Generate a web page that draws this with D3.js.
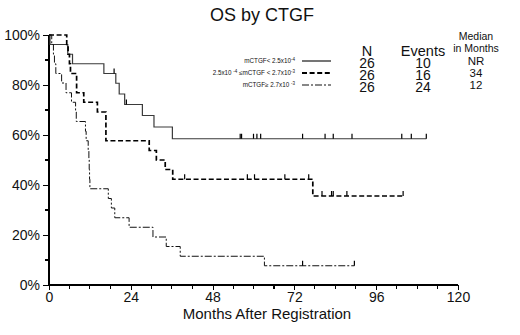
<!DOCTYPE html>
<html><head><meta charset="utf-8">
<script src="https://cdn.jsdelivr.net/npm/d3@7"></script>
<style>body{margin:0;background:#fff}svg{display:block}text{font-family:"Liberation Sans",Arial,sans-serif;fill:#111}</style>
</head><body>
<svg id="c" width="520" height="335"></svg>
<script>
// ---- data (months, survival %) ----
const groupNames = ["low", "mid", "high"];
const lowSteps = [[0,100],[0.3,96.2],[5.5,92.3],[6.9,88.5],[16.1,84.6],[19.6,80.7],[20.6,76.4],[22.2,72.2],[27.4,67.8],[30.8,63.2],[36.2,58.5]];
const lowEnd = 110.7;
const lowCensor = [19.1,22.7,56.1,56.5,60,61,62.1,74.4,81,83.4,88.9,103.5,106.3,110.7];

const midSteps = [[0,100],[5.2,96.2],[5.6,92.3],[6.0,88.5],[6.3,84.6],[8.1,76.9],[10.2,73.1],[14.2,69.2],[16.7,57.7],[29.4,53.8],[31.5,50],[34.1,46.2],[36.3,42.3],[77.4,35.6]];
const midEnd = 103.9;
const midCensor = [39.8,58.2,60.3,69.2,76.2,80.1,82.9,83.4,87.4,103.9];

const highSteps = [[0,100],[0.8,96.2],[1.3,92.3],[1.6,88.5],[2.0,84.6],[3.7,80.8],[5.0,76.9],[6.6,73.1],[7.8,69.2],[8.0,65.4],[10.7,61.5],[10.9,57.7],[11.5,53.8],[11.7,50],[11.8,46.2],[11.9,42.3],[12.0,38.5],[17.4,34.6],[18.3,30.8],[19.3,26.9],[23.5,23.1],[30.5,19.2],[34.4,15.4],[38.5,11.5],[63.2,7.7]];
const highEnd = 89.6;
const highCensor = [74.4,89.6];

const legendLabels = [["mCTGF< 2.5x10","-4",""],["2.5x10 ","-4"," \u2264mCTGF < 2.7x10","-3"],["mCTGF\u2265 2.7x10 ","-3",""]];
const nValues = ["26","26","26"];
const eventValues = ["10","16","24"];
const medianValues = ["NR","34","12"];
const xTicks = [0,24,48,72,96,120];
const yTicks = [0,20,40,60,80,100];

// ---- scales ----
const svg = d3.select("#c");
const x = d3.scaleLinear().domain([0,120]).range([49,458]);
const y = d3.scaleLinear().domain([0,100]).range([285,35]);

const styles = [
  {stroke:"#3a3a3a", w:1.2, dash:null},
  {stroke:"#000", w:1.7, dash:"5,2.6"},
  {stroke:"#111", w:1.0, dash:"7,2,2,2"}
];

// title
svg.append("text").attr("x",262).attr("y",21).attr("text-anchor","middle")
  .attr("font-size",18).text("OS by CTGF");

// axes
const yAxis = d3.axisLeft(y).tickValues(yTicks).tickFormat(d=>d+"%").tickSize(6).tickPadding(3);
const gy = svg.append("g").attr("transform","translate(49,0)").call(yAxis);
gy.select(".domain").attr("d","M0,35V285").attr("stroke","#000").attr("stroke-width",1.3);
gy.selectAll("text").attr("font-size",14);
gy.selectAll(".tick line").attr("stroke-width",1.2);
gy.selectAll(".minor").data(d3.range(10,100,20)).enter().append("line")
  .attr("x1",-4).attr("x2",0).attr("y1",d=>y(d)).attr("y2",d=>y(d)).attr("stroke","#000").attr("stroke-width",1.1);

const xAxis = d3.axisBottom(x).tickValues(xTicks).tickSize(5).tickPadding(2);
const gx = svg.append("g").attr("transform","translate(0,285)").call(xAxis);
gx.select(".domain").attr("d","M49,0H458").attr("stroke","#000").attr("stroke-width",1.3);
gx.selectAll("text").attr("font-size",14);
gx.selectAll(".tick line").attr("stroke-width",1.2);
gx.selectAll(".minor").data(d3.range(6,120,6).filter(d=>d%24)).enter().append("line")
  .attr("x1",d=>x(d)).attr("x2",d=>x(d)).attr("y1",0).attr("y2",4).attr("stroke","#000").attr("stroke-width",1.1);
gx.selectAll("path,line").attr("shape-rendering","crispEdges");
gy.selectAll("path,line").attr("shape-rendering","crispEdges");

svg.append("text").attr("x",267).attr("y",319).attr("text-anchor","middle").attr("font-size",15)
  .text("Months After Registration");

// curves
const line = d3.line().x(d=>x(d[0])).y(d=>y(d[1])).curve(d3.curveStepAfter);
function survAt(steps,t){let s=steps[0][1];for(const p of steps){if(p[0]<=t)s=p[1];}return s;}
const groups = [[lowSteps,lowEnd,lowCensor],[midSteps,midEnd,midCensor],[highSteps,highEnd,highCensor]];
groups.forEach((g,i)=>{
  const [steps,end,cens]=g;
  const pts = steps.concat([[end,steps[steps.length-1][1]]]);
  const st = styles[i];
  svg.append("path").attr("d",line(pts)).attr("fill","none").attr("stroke",st.stroke)
    .attr("stroke-width",st.w).attr("stroke-dasharray",st.dash);
  svg.append("g").selectAll("line").data(cens).enter().append("line")
    .attr("x1",d=>x(d)).attr("x2",d=>x(d)).attr("y1",d=>y(survAt(steps,d)))
    .attr("y2",d=>y(survAt(steps,d))-5).attr("stroke","#000").attr("stroke-width",1.2);
});

// legend
const rowY = [62,74,86];
legendLabels.forEach((lab,i)=>{
  const t = svg.append("text").attr("x",295).attr("y",rowY[i]+1).attr("text-anchor","end").attr("font-size",6.3);
  t.append("tspan").text(lab[0]);
  t.append("tspan").attr("font-size",4.5).attr("dy",-2.5).text(lab[1]);
  if(lab.length>3){
    t.append("tspan").attr("dy",2.5).text(lab[2]);
    t.append("tspan").attr("font-size",4.5).attr("dy",-2.5).text(lab[3]);
  }
  const st = styles[i];
  svg.append("line").attr("x1",302).attr("x2",331).attr("y1",rowY[i]-1).attr("y2",rowY[i]-1)
    .attr("stroke",st.stroke).attr("stroke-width",st.w+0.2).attr("stroke-dasharray",st.dash);
});

svg.append("text").attr("x",367).attr("y",55.5).attr("text-anchor","middle").attr("font-size",14.5).text("N");
svg.append("text").attr("x",423).attr("y",55.5).attr("text-anchor","middle").attr("font-size",14.5).text("Events");
svg.append("text").attr("x",476).attr("y",40).attr("text-anchor","middle").attr("font-size",10.5).text("Median");
svg.append("text").attr("x",476).attr("y",52).attr("text-anchor","middle").attr("font-size",10.5).text("in Months");
[nValues,eventValues].forEach((vals,j)=>{
  vals.forEach((v,i)=>{
    svg.append("text").attr("x",[367,423][j]).attr("y",rowY[i]+6).attr("text-anchor","middle")
      .attr("font-size",14).text(v);
  });
});
medianValues.forEach((v,i)=>{
  svg.append("text").attr("x",476).attr("y",rowY[i]+3).attr("text-anchor","middle").attr("font-size",11.5).text(v);
});
</script>
</body></html>
